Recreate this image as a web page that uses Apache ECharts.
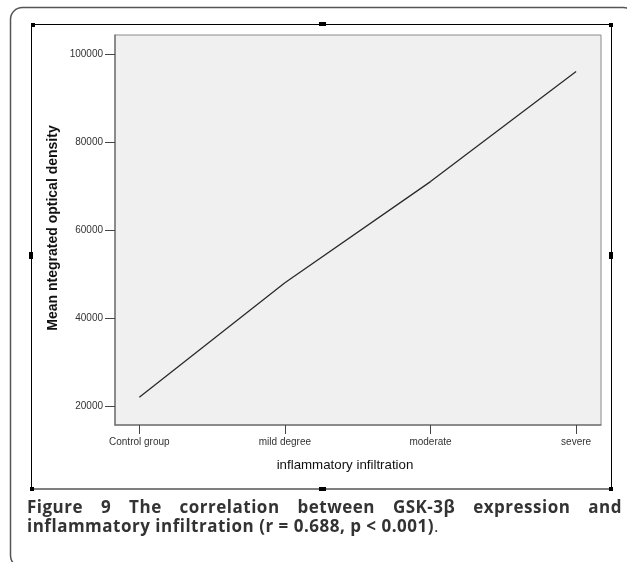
<!DOCTYPE html>
<html><head><meta charset="utf-8">
<script src="https://cdn.jsdelivr.net/npm/echarts@6/dist/echarts.min.js"></script>
<style>
html,body{margin:0;padding:0;background:#fff;}
#wrap{position:relative;width:627px;height:562px;overflow:hidden;}
#chart{position:absolute;left:0;top:0;width:627px;height:562px;}
#cap{position:absolute;left:27px;top:498px;width:595px;font-family:"Open Sans",sans-serif;font-size:17px;letter-spacing:0.5px;line-height:18.8px;color:#333;font-weight:bold;}
#cap .l1{text-align:justify;text-align-last:justify;white-space:nowrap;display:block;}
</style></head>
<body><div id="wrap"><div id="chart"></div>
<div id="cap"><div class="l1">Figure 9 The correlation between GSK-3β expression and</div><div>inflammatory infiltration (r = 0.688, p &lt; 0.001)<span style="font-weight:normal">.</span></div></div>
</div>
<script>
const categories = ['Control group', 'mild degree', 'moderate', 'severe'];
const meanValues = [22000, 48000, 71000, 96000];
const yTicks = [20000, 40000, 60000, 80000, 100000];
const yTitle = 'Mean ntegrated optical density';
const xTitle = 'inflammatory infiltration';

const chart = echarts.init(document.getElementById('chart'), null, {renderer: 'canvas'});
const font = '"Liberation Sans", Arial, sans-serif';
const handles = [
  [32,24,3,3],[320,23,6,3],[610,24,3,3],
  [30,253,3,6],[610,253,3,6],
  [31,488,3,3],[320,488,6,3],[610,488,3,3]
].map(h => ({type:'rect', shape:{x:h[0]-1,y:h[1]-1,width:h[2]+1,height:h[3]+1}, style:{fill:'#000'}, silent:true}));

chart.setOption({
  animation: false,
  backgroundColor: '#fff',
  grid: {left: 115, top: 35, width: 486, height: 390, show: true, backgroundColor: '#f0f0f0', borderColor: '#8a8a8a', borderWidth: 1},
  xAxis: {
    type: 'value', min: -0.167, max: 3.171,
    splitLine: {show: false},
    axisLine: {show: true, onZero: false, lineStyle: {color: '#7a7a7a', width: 1.5}},
    axisTick: {show: true, length: 9, customValues: [0,1,2,3], lineStyle: {color: '#444', width: 1}},
    axisLabel: {customValues: [0,1,2,3], margin: 12, fontSize: 10, fontFamily: font, color: '#333',
      formatter: v => categories[Math.round(v)] || ''}
  },
  yAxis: {
    type: 'value', min: 15682, max: 104318,
    splitLine: {show: false},
    axisLine: {show: true, onZero: false, lineStyle: {color: '#7a7a7a', width: 1.5}},
    axisTick: {show: true, length: 10, customValues: yTicks, lineStyle: {color: '#444', width: 1}},
    axisLabel: {customValues: yTicks, margin: 12, fontSize: 10, fontFamily: font, color: '#333',
      formatter: v => String(v)}
  },
  series: [{
    type: 'line',
    data: meanValues.map((v, i) => [i, v]),
    showSymbol: false, symbol: 'none',
    lineStyle: {color: '#2a2a2a', width: 1.3},
    silent: true
  }],
  graphic: [
    {type:'rect', shape:{x:10.5,y:7.5,width:625,height:560,r:12}, style:{fill:null, stroke:'#555', lineWidth:1.5}, silent:true, z:-1},
    {type:'rect', shape:{x:31.5,y:24.5,width:580,height:464.5}, style:{fill:null, stroke:'#000', lineWidth:1}, silent:true},
    ...handles,
    {type:'text', x:53, y:228, rotation: Math.PI/2, style:{text: yTitle, font:'bold 14px ' + font, fill:'#111', align:'center', verticalAlign:'middle'}, silent:true},
    {type:'text', x:345, y:465, style:{text: xTitle, font:'13.3px ' + font, fill:'#111', align:'center', verticalAlign:'middle'}, silent:true}
  ]
});
</script></body></html>
